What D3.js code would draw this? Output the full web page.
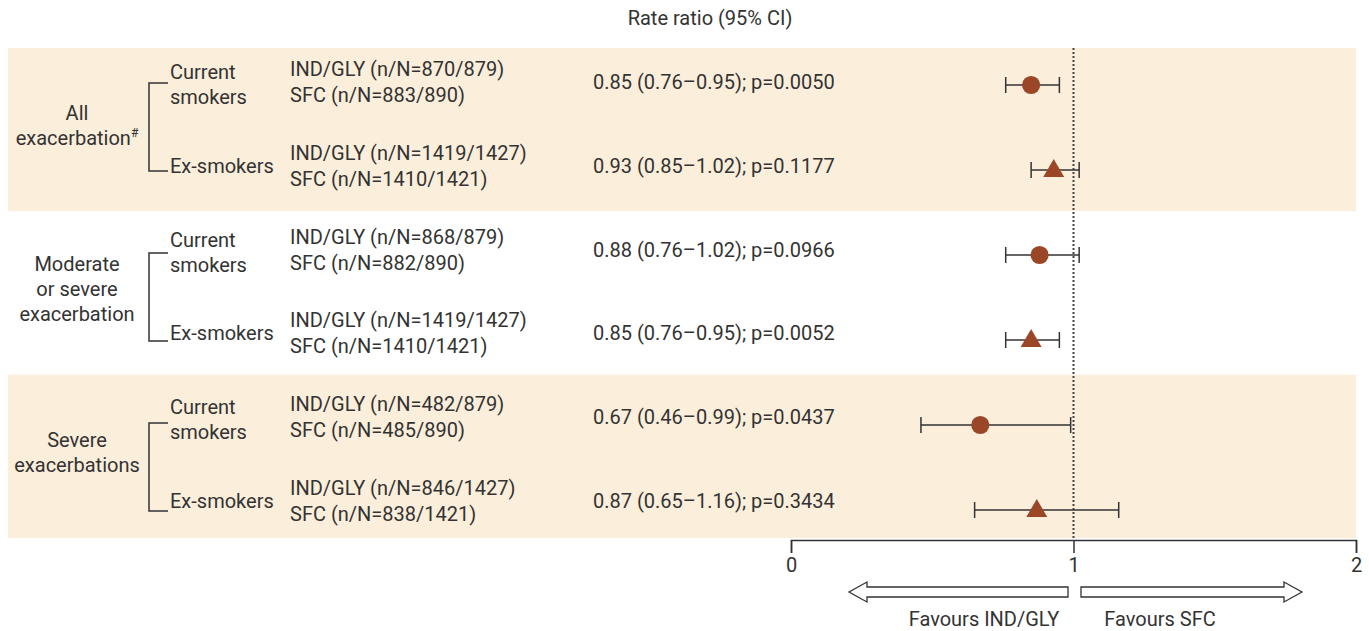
<!DOCTYPE html>
<html>
<head>
<meta charset="utf-8">
<script src="https://cdn.jsdelivr.net/npm/d3@7"></script>
<style>
  body { margin: 0; background: #fff; }
  text { font-family: Roboto, "DejaVu Sans", sans-serif; fill: #333; }
</style>
</head>
<body>
<div id="chart"></div>
<script>
// data
const groups = ["All exacerbation", "Moderate or severe exacerbation", "Severe exacerbations"];
const groupLines = [["All", "exacerbation"], ["Moderate", "or severe", "exacerbation"], ["Severe", "exacerbations"]];
const subgroups = ["Current smokers", "Ex-smokers"];
const rowGroup = [0, 0, 1, 1, 2, 2];
const rowSub = [0, 1, 0, 1, 0, 1];
const estimate = [0.85, 0.93, 0.88, 0.85, 0.67, 0.87];
const lower = [0.76, 0.85, 0.76, 0.76, 0.46, 0.65];
const upper = [0.95, 1.02, 1.02, 0.95, 0.99, 1.16];
const pValue = ["0.0050", "0.1177", "0.0966", "0.0052", "0.0437", "0.3434"];
const indGly = ["870/879", "1419/1427", "868/879", "1419/1427", "482/879", "846/1427"];
const sfc = ["883/890", "1410/1421", "882/890", "1410/1421", "485/890", "838/1421"];
const xTicks = [0, 1, 2];

const width = 1369, height = 631;
const fs = 20;

let svg = d3.select("#chart")
    .append("svg")
    .attr("width", width)
    .attr("height", height);

let x = d3.scaleLinear().domain([0, 2]).range([791, 1356]);

let yGroup = d3.scaleBand()
    .domain(d3.range(groups.length))
    .range([48, 538]);

// marker rows and text rows sit on slightly different grids
let yRow = d3.scalePoint()
    .domain(d3.range(estimate.length))
    .range([85, 510]);
let yText = d3.scalePoint()
    .domain(d3.range(estimate.length))
    .range([82, 501]);

// shaded bands (1st and 3rd)
svg.append("g").selectAll("rect")
    .data(groups)
    .enter()
    .append("rect")
    .attr("x", 8)
    .attr("y", (d, i) => yGroup(i))
    .attr("width", 1356 - 8)
    .attr("height", yGroup.bandwidth())
    .attr("fill", (d, i) => i % 2 === 0 ? "#fbeedb" : "#fff");

// header
svg.append("text")
    .attr("x", 710)
    .attr("y", 25)
    .style("text-anchor", "middle")
    .style("font-size", fs)
    .text("Rate ratio (95% CI)");

// group labels
groupLines.forEach(function(lines, g) {
    let cy = yGroup(g) + yGroup.bandwidth() / 2 - 4;
    let t = svg.append("text")
        .style("text-anchor", "middle")
        .style("font-size", fs);
    lines.forEach(function(l, k) {
        let ts = t.append("tspan")
            .attr("x", 77)
            .attr("y", cy + (k - (lines.length - 1) / 2) * 25 + 7)
            .text(l);
        if (g === 0 && k === 1) {
            ts.append("tspan").attr("dy", -8).style("font-size", 12).text("#");
        }
    });

    // bracket
    let y0 = yRow(g * 2), y1 = yRow(g * 2 + 1);
    svg.append("path")
        .attr("d", `M168,${y0 - 2} H149 V${y1 + 1} H168`)
        .attr("fill", "none")
        .attr("stroke", "#333")
        .attr("stroke-width", 1.5);
});

// row texts
d3.range(estimate.length).forEach(function(i) {
    let y = yText(i);
    if (rowSub[i] === 0) {
        svg.append("text").attr("x", 170).attr("y", y - 3).style("font-size", fs).text("Current");
        svg.append("text").attr("x", 170).attr("y", y + 22).style("font-size", fs).text("smokers");
    } else {
        svg.append("text").attr("x", 170).attr("y", y + 7).style("font-size", fs).text("Ex-smokers");
    }
    svg.append("text").attr("x", 290).attr("y", y - 6).style("font-size", fs)
        .text("IND/GLY (n/N=" + indGly[i] + ")");
    svg.append("text").attr("x", 290).attr("y", y + 20).style("font-size", fs)
        .text("SFC (n/N=" + sfc[i] + ")");
    svg.append("text").attr("x", 593).attr("y", y + 7).style("font-size", fs)
        .text(estimate[i].toFixed(2) + " (" + lower[i].toFixed(2) + "\u2013" + upper[i].toFixed(2) + "); p=" + pValue[i]);
});

// reference line at 1
svg.append("line")
    .attr("x1", x(1)).attr("x2", x(1))
    .attr("y1", 48).attr("y2", 540)
    .attr("stroke", "#444")
    .attr("stroke-width", 2)
    .attr("stroke-dasharray", "2,2");

// CI lines
let ci = svg.append("g").attr("stroke", "#333").attr("stroke-width", 1.5);
d3.range(estimate.length).forEach(function(i) {
    let y = yRow(i);
    ci.append("line").attr("x1", x(lower[i])).attr("x2", x(upper[i])).attr("y1", y).attr("y2", y);
    ci.append("line").attr("x1", x(lower[i])).attr("x2", x(lower[i])).attr("y1", y - 8).attr("y2", y + 8);
    ci.append("line").attr("x1", x(upper[i])).attr("x2", x(upper[i])).attr("y1", y - 8).attr("y2", y + 8);
});

// markers
let circleSym = d3.symbol().type(d3.symbolCircle).size(260);
let triSym = d3.symbol().type(d3.symbolTriangle).size(190);
svg.append("g").selectAll("path")
    .data(estimate)
    .enter()
    .append("path")
    .attr("d", (d, i) => rowSub[i] === 0 ? circleSym() : triSym())
    .attr("transform", (d, i) => `translate(${x(d)},${yRow(i) + (rowSub[i] === 1 ? 1 : 0)})`)
    .attr("fill", "#9b4627");

// x axis
let axis = svg.append("g")
    .attr("transform", "translate(0,540)")
    .call(d3.axisBottom(x).tickValues(xTicks).tickFormat(d3.format("d")).tickSize(13).tickPadding(5));
axis.selectAll("path, line").attr("stroke", "#333").attr("stroke-width", 1.5);
axis.selectAll("text").style("font-size", fs).attr("fill", "#333");

// favours arrows
function arrow(x0, x1, y) {
    let dir = x1 > x0 ? 1 : -1;
    let head = 18 * dir;
    return `M${x0},${y - 5} L${x1 - head},${y - 5} L${x1 - head},${y - 10} L${x1},${y} ` +
        `L${x1 - head},${y + 10} L${x1 - head},${y + 5} L${x0},${y + 5} Z`;
}
svg.append("path").attr("d", arrow(1068, 849, 592))
    .attr("fill", "#fff").attr("stroke", "#333").attr("stroke-width", 1.3);
svg.append("path").attr("d", arrow(1081, 1302, 592))
    .attr("fill", "#fff").attr("stroke", "#333").attr("stroke-width", 1.3);

svg.append("text").attr("x", 984).attr("y", 626).style("text-anchor", "middle").style("font-size", fs)
    .text("Favours IND/GLY");
svg.append("text").attr("x", 1160).attr("y", 626).style("text-anchor", "middle").style("font-size", fs)
    .text("Favours SFC");
</script>
</body>
</html>
